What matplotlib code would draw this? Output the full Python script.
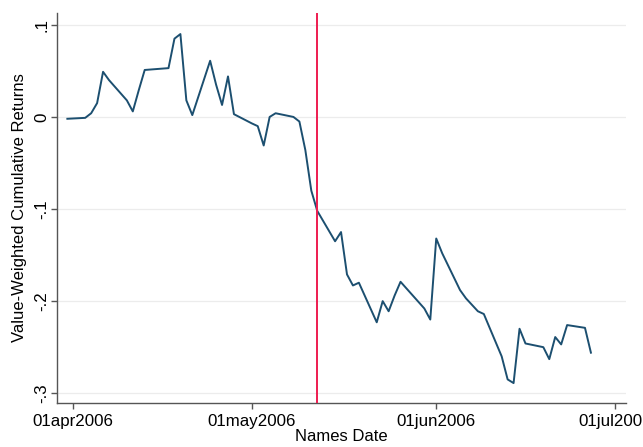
import datetime as dt
import matplotlib
matplotlib.use("Agg")
import matplotlib.pyplot as plt

# Daily trading dates and value-weighted cumulative returns
dates = [
    "2006-03-31", "2006-04-03", "2006-04-04", "2006-04-05", "2006-04-06", "2006-04-07",
    "2006-04-10", "2006-04-11", "2006-04-12", "2006-04-13", "2006-04-17", "2006-04-18",
    "2006-04-19", "2006-04-20", "2006-04-21", "2006-04-24", "2006-04-25", "2006-04-26",
    "2006-04-27", "2006-04-28", "2006-05-01", "2006-05-02", "2006-05-03", "2006-05-04",
    "2006-05-05", "2006-05-08", "2006-05-09", "2006-05-10", "2006-05-11", "2006-05-12",
    "2006-05-15", "2006-05-16", "2006-05-17", "2006-05-18", "2006-05-19", "2006-05-22",
    "2006-05-23", "2006-05-24", "2006-05-25", "2006-05-26", "2006-05-30", "2006-05-31",
    "2006-06-01", "2006-06-02", "2006-06-05", "2006-06-06", "2006-06-07", "2006-06-08",
    "2006-06-09", "2006-06-12", "2006-06-13", "2006-06-14", "2006-06-15", "2006-06-16",
    "2006-06-19", "2006-06-20", "2006-06-21", "2006-06-22", "2006-06-23", "2006-06-26",
    "2006-06-27",
]
cum_returns = [
    -0.002, -0.001, 0.004, 0.015, 0.049, 0.040,
    0.018, 0.006, 0.029, 0.051, 0.053, 0.085,
    0.090, 0.018, 0.002, 0.061, 0.035, 0.013,
    0.044, 0.003, -0.007, -0.010, -0.031, 0.000,
    0.004, 0.000, -0.005, -0.036, -0.080, -0.102,
    -0.135, -0.125, -0.171, -0.183, -0.180, -0.223,
    -0.200, -0.211, -0.194, -0.179, -0.208, -0.220,
    -0.132, -0.148, -0.188, -0.197, -0.204, -0.211,
    -0.214, -0.260, -0.285, -0.289, -0.230, -0.246,
    -0.250, -0.263, -0.239, -0.247, -0.226, -0.229,
    -0.256,
]
event_date = "2006-05-12"

x_ticks = ["2006-04-01", "2006-05-01", "2006-06-01", "2006-07-01"]
x_tick_labels = ["01apr2006", "01may2006", "01jun2006", "01jul2006"]
y_ticks = [-0.3, -0.2, -0.1, 0.0, 0.1]
y_tick_labels = ["-.3", "-.2", "-.1", "0", ".1"]

to_dt = lambda s: dt.datetime.strptime(s, "%Y-%m-%d")
x = [to_dt(d) for d in dates]

plt.rcParams["font.family"] = ["Liberation Sans", "DejaVu Sans"]

fig = plt.figure(figsize=(6.43, 4.47), dpi=100)
ax = fig.add_axes([0.0894, 0.0991, 0.8842, 0.8719])

ax.plot(x, cum_returns, color="#1c4f70", lw=1.4, zorder=3)
ax.axvline(to_dt(event_date), color="#ee1c50", lw=1.4, zorder=4)

# axes layout (Stata-like)
start = to_dt("2006-04-01")
ax.set_xlim(start - dt.timedelta(days=2.66), start + dt.timedelta(days=92.9))
ax.set_ylim(-0.3103, 0.1129)

ax.set_xticks([to_dt(t) for t in x_ticks])
ax.set_xticklabels(x_tick_labels, fontsize=12.2)
ax.set_yticks(y_ticks)
ax.set_yticklabels(y_tick_labels, fontsize=12.2, rotation=90, va="center")

ax.grid(axis="y", color="#ececec", lw=0.9)
ax.set_axisbelow(True)
for side in ["top", "right"]:
    ax.spines[side].set_visible(False)
for side in ["left", "bottom"]:
    ax.spines[side].set_color("#555555")
    ax.spines[side].set_linewidth(1.0)
ax.tick_params(length=4, width=1.0, color="#555555")
ax.tick_params(axis="x", pad=4)
ax.tick_params(axis="y", pad=2)

ax.set_xlabel("Names Date", fontsize=12, labelpad=0)
ax.set_ylabel("Value-Weighted Cumulative Returns", fontsize=12, labelpad=5)

fig.savefig("out.png", dpi=100)
